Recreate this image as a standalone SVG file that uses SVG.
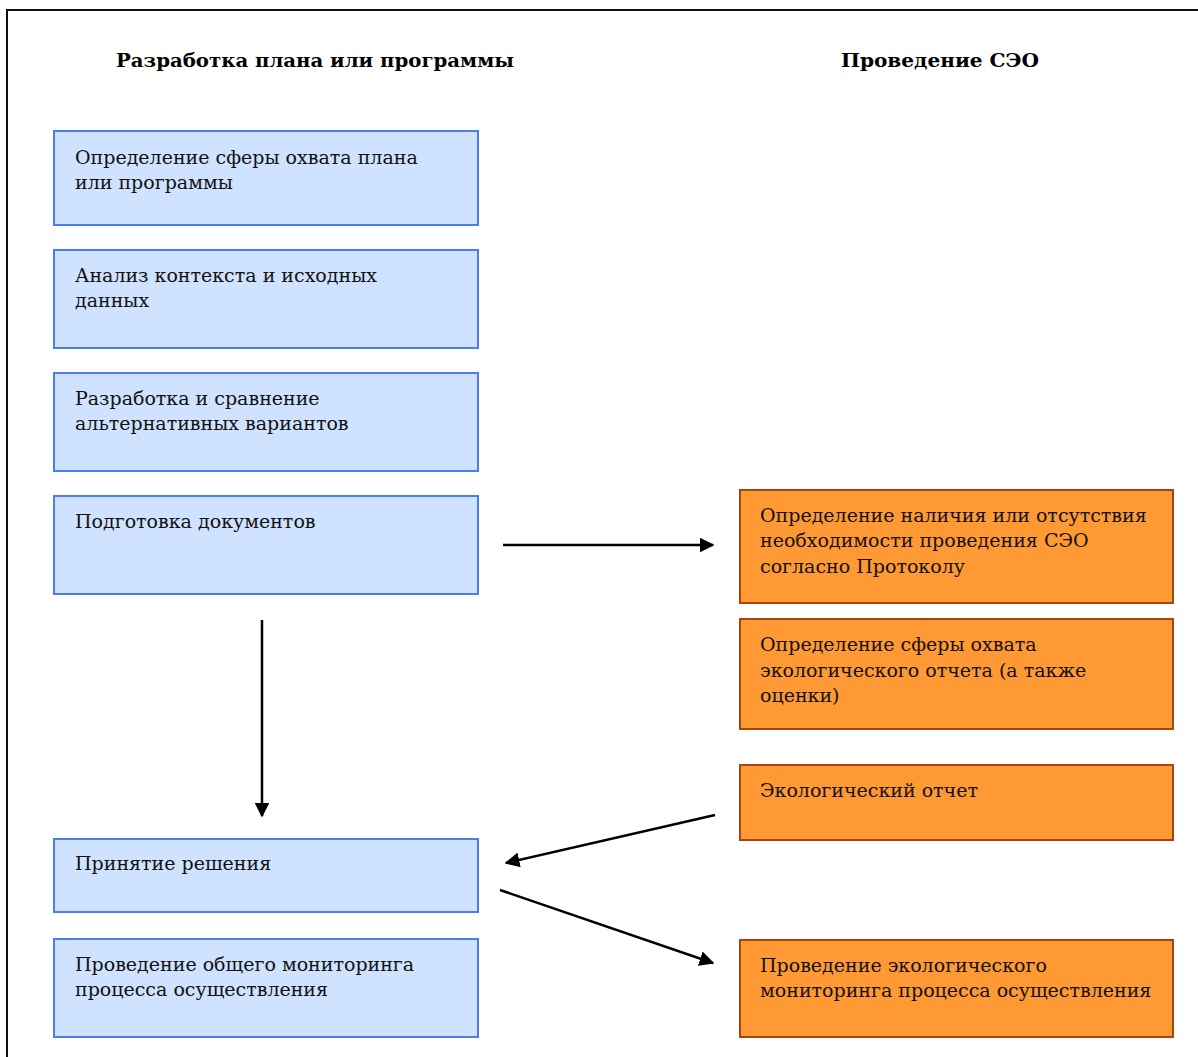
<svg xmlns="http://www.w3.org/2000/svg" width="1198" height="1057" viewBox="0 0 1198 1057">
  <style>
    text { font-family: "DejaVu Serif", "Liberation Serif", serif; font-size: 19px; fill: #111; }
    .title { font-size: 19px; font-weight: bold; fill: #000; }
    .plan rect { fill: #CFE2FF; stroke: #4A7DF2; stroke-width: 2; }
    .sea rect { fill: #FF9933; stroke: #A8440C; stroke-width: 2; }
    .edge { stroke: #000; stroke-width: 2.5; fill: none; marker-end: url(#arrow); }
  </style>
  <defs>
    <marker id="arrow" viewBox="0 0 10 10" refX="9" refY="5" markerWidth="6" markerHeight="6" markerUnits="strokeWidth" orient="auto">
      <path d="M0,0 L10,5 L0,10 z" fill="#000"/>
    </marker>
  </defs>

  <rect x="7" y="10" width="1200" height="1060" fill="#fff" stroke="#111" stroke-width="2"/>

  <g id="headers">
    <text class="title" x="116" y="67" textLength="398" lengthAdjust="spacingAndGlyphs">Разработка плана или программы</text>
    <text class="title" x="841" y="67" textLength="198" lengthAdjust="spacingAndGlyphs">Проведение СЭО</text>
  </g>

  <!-- Plan / programme development column -->
  <g id="plan-scope" class="plan">
    <rect x="54" y="131" width="424" height="94"/>
    <text x="75" y="164">Определение сферы охвата плана</text>
    <text x="75" y="189">или программы</text>
  </g>
  <g id="plan-context" class="plan">
    <rect x="54" y="250" width="424" height="98"/>
    <text x="75" y="282">Анализ контекста и исходных</text>
    <text x="75" y="307">данных</text>
  </g>
  <g id="plan-alternatives" class="plan">
    <rect x="54" y="373" width="424" height="98"/>
    <text x="75" y="405">Разработка и сравнение</text>
    <text x="75" y="430">альтернативных вариантов</text>
  </g>
  <g id="plan-documents" class="plan">
    <rect x="54" y="496" width="424" height="98"/>
    <text x="75" y="528">Подготовка документов</text>
  </g>
  <g id="plan-decision" class="plan">
    <rect x="54" y="839" width="424" height="73"/>
    <text x="75" y="870">Принятие решения</text>
  </g>
  <g id="plan-monitoring" class="plan">
    <rect x="54" y="939" width="424" height="98"/>
    <text x="75" y="971">Проведение общего мониторинга</text>
    <text x="75" y="996">процесса осуществления</text>
  </g>

  <!-- SEA column -->
  <g id="sea-screening" class="sea">
    <rect x="740" y="490" width="433" height="113"/>
    <text x="760" y="522">Определение наличия или отсутствия</text>
    <text x="760" y="547">необходимости проведения СЭО</text>
    <text x="760" y="573">согласно Протоколу</text>
  </g>
  <g id="sea-scoping" class="sea">
    <rect x="740" y="619" width="433" height="110"/>
    <text x="760" y="651">Определение сферы охвата</text>
    <text x="760" y="677">экологического отчета (а также</text>
    <text x="760" y="702">оценки)</text>
  </g>
  <g id="sea-report" class="sea">
    <rect x="740" y="765" width="433" height="75"/>
    <text x="760" y="797">Экологический отчет</text>
  </g>
  <g id="sea-monitoring" class="sea">
    <rect x="740" y="940" width="433" height="97"/>
    <text x="760" y="972">Проведение экологического</text>
    <text x="760" y="997">мониторинга процесса осуществления</text>
  </g>

  <g id="connectors">
    <line class="edge" x1="503" y1="545" x2="713" y2="545"/>
    <line class="edge" x1="262" y1="620" x2="262" y2="816"/>
    <line class="edge" x1="715" y1="815" x2="506" y2="863"/>
    <line class="edge" x1="500" y1="890" x2="713" y2="963"/>
  </g>
</svg>
